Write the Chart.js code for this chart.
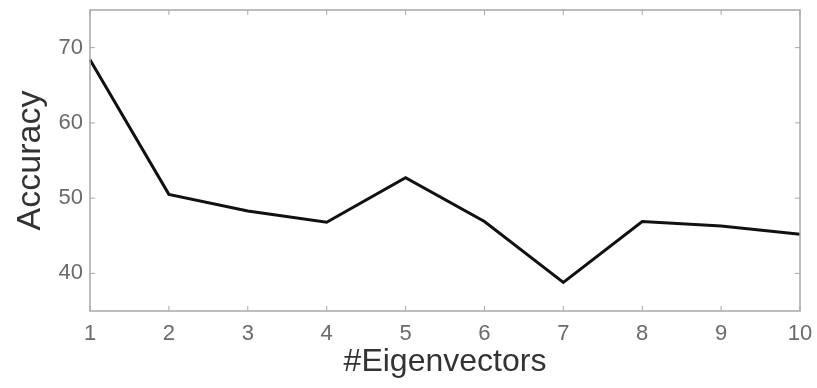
<!DOCTYPE html>
<html>
<head>
<meta charset="utf-8">
<script src="https://cdn.jsdelivr.net/npm/chart.js@4/dist/chart.umd.min.js"></script>
<style>
  html, body { margin: 0; padding: 0; background: #fff; }
  #wrap { width: 817px; height: 388px; }
</style>
</head>
<body>
<div id="wrap"><canvas id="chart"></canvas></div>
<script>
const eigenvectors = ['1', '2', '3', '4', '5', '6', '7', '8', '9', '10'];
const accuracy = [68.4, 50.5, 48.3, 46.8, 52.7, 46.9, 38.8, 46.9, 46.3, 45.2];
const yTicks = [40, 50, 60, 70];

// matlab style box with inward tick marks
const boxTicks = {
  id: 'boxTicks',
  afterDraw(chart) {
    const { ctx, chartArea: a, scales } = chart;
    const len = 5;
    ctx.save();
    ctx.strokeStyle = '#a8a8a8';
    ctx.lineWidth = 1.5;
    ctx.strokeRect(a.left, a.top, a.right - a.left, a.bottom - a.top);
    ctx.lineWidth = 1;
    ctx.beginPath();
    scales.x.ticks.forEach((t, i) => {
      const px = scales.x.getPixelForTick(i);
      ctx.moveTo(px, a.bottom); ctx.lineTo(px, a.bottom - len);
      ctx.moveTo(px, a.top); ctx.lineTo(px, a.top + len);
    });
    yTicks.forEach(v => {
      const py = scales.y.getPixelForValue(v);
      ctx.moveTo(a.left, py); ctx.lineTo(a.left + len, py);
      ctx.moveTo(a.right, py); ctx.lineTo(a.right - len, py);
    });
    ctx.stroke();
    ctx.restore();
  }
};

new Chart(document.getElementById('chart'), {
  type: 'line',
  data: {
    labels: eigenvectors,
    datasets: [{
      data: accuracy,
      borderColor: '#111',
      borderWidth: 3,
      pointRadius: 0,
      tension: 0,
    }],
  },
  options: {
    responsive: true,
    maintainAspectRatio: false,
    animation: false,
    layout: { padding: { top: 10, right: 17, left: 0, bottom: 0 } },
    plugins: { legend: { display: false }, tooltip: { enabled: false } },
    scales: {
      x: {
        grid: { display: false, drawTicks: false },
        border: { display: false },
        ticks: {
          color: '#6a6a6a',
          font: { family: 'Liberation Sans', size: 22 },
          padding: 10,
          maxRotation: 0,
          autoSkip: false,
        },
        title: {
          display: true,
          text: '#Eigenvectors',
          color: '#333',
          font: { family: 'Liberation Sans', size: 32 },
          padding: { top: 0, bottom: 7 },
        },
        afterFit(scale) {
          scale.height = 77;
          scale.paddingLeft = 0;
          scale.paddingRight = 0;
        },
      },
      y: {
        min: 35,
        max: 75,
        grid: { display: false, drawTicks: false },
        border: { display: false },
        afterBuildTicks(axis) { axis.ticks = yTicks.map(v => ({ value: v })); },
        ticks: {
          color: '#6a6a6a',
          font: { family: 'Liberation Sans', size: 22 },
          padding: 7,
        },
        title: {
          display: true,
          text: 'Accuracy',
          color: '#333',
          font: { family: 'Liberation Sans', size: 34 },
          padding: { top: 10, bottom: 0 },
        },
        afterFit(scale) {
          scale.width = 90;
          scale.paddingTop = 0;
          scale.paddingBottom = 0;
        },
      },
    },
  },
  plugins: [boxTicks],
});
</script>
</body>
</html>
